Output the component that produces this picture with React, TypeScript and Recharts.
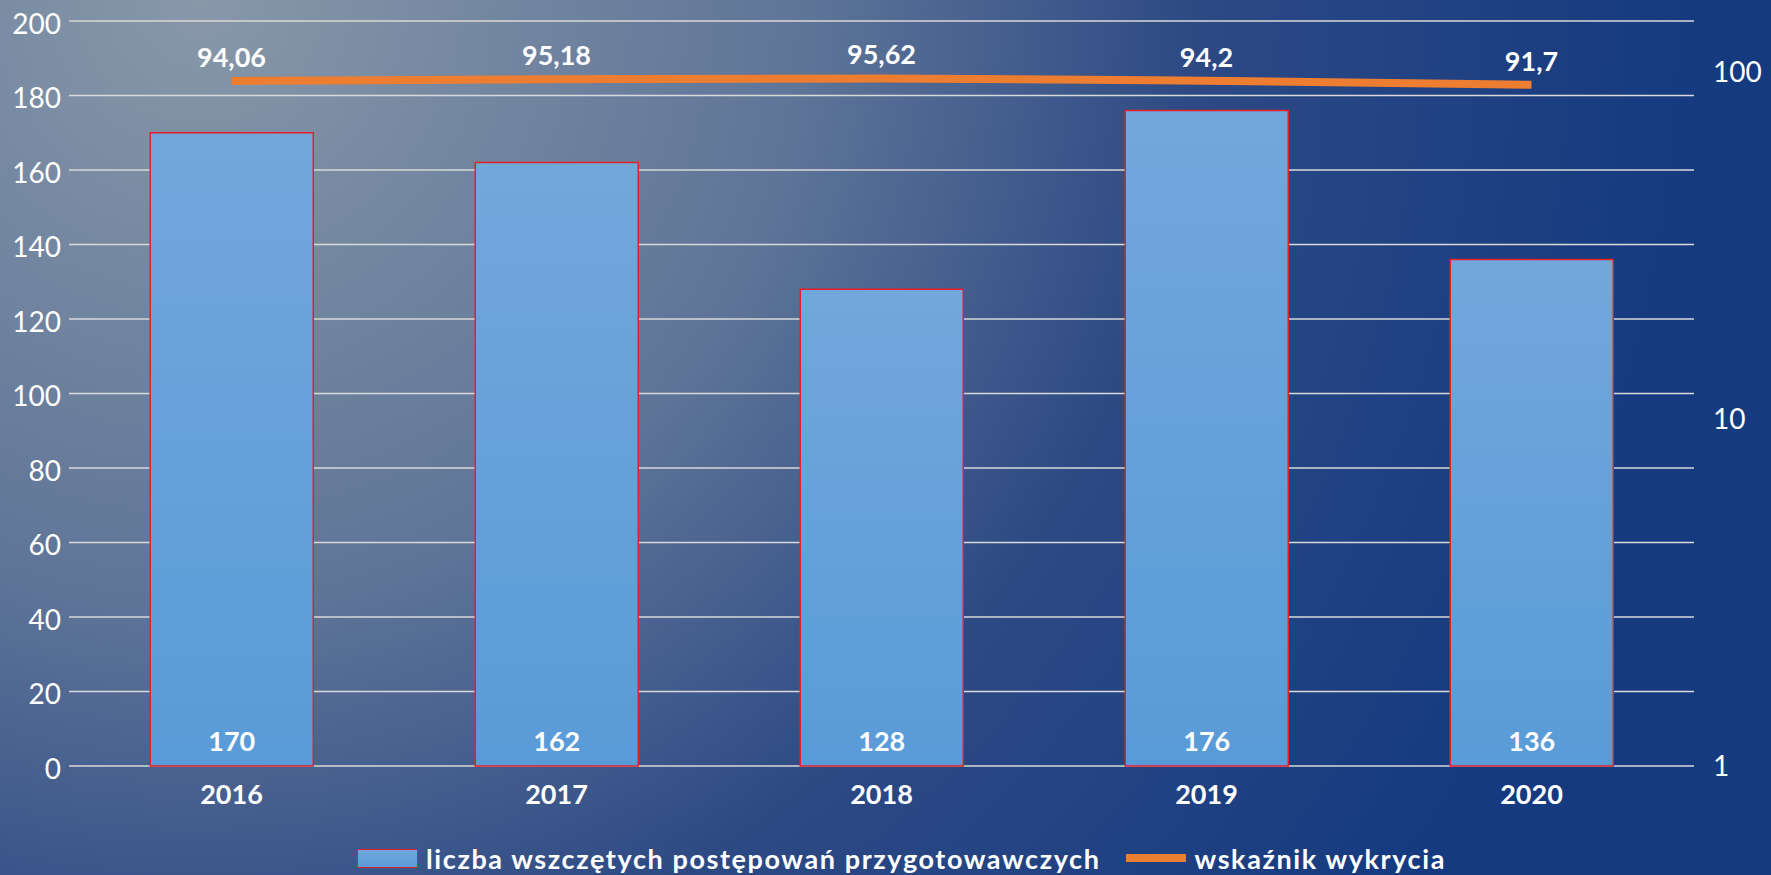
import {
  ComposedChart,
  Bar,
  Line,
  XAxis,
  YAxis,
  CartesianGrid,
  Legend,
  LabelList,
} from "recharts";

const years = ["2016", "2017", "2018", "2019", "2020"];
const cases = [170, 162, 128, 176, 136];
const detection = [94.06, 95.18, 95.62, 94.2, 91.7];
const leftTicks = [0, 20, 40, 60, 80, 100, 120, 140, 160, 180, 200];
const rightTicks = [1, 10, 100];

const data = years.map((year, i) => ({
  year,
  cases: cases[i],
  detection: detection[i],
}));

const comma = (v: any) => String(v).replace(".", ",");

function ChartLegend() {
  return (
    <div
      style={{
        display: "flex",
        justifyContent: "center",
        alignItems: "center",
        height: 40,
        paddingLeft: 32,
        color: "#fff",
        fontFamily: "Lato",
        fontWeight: 700,
        fontSize: 27,
      }}
    >
      <span
        style={{
          width: 61,
          height: 19,
          background: "linear-gradient(#71a7dc, #5a9bd8)",
          border: "1.5px solid #e3202a",
          boxSizing: "border-box",
          marginRight: 8,
        }}
      />
      <span style={{ letterSpacing: 1.6 }}>
        liczba wszczętych postępowań przygotowawczych
      </span>
      <span
        style={{
          width: 60,
          height: 8,
          background: "#ED7D31",
          marginLeft: 25,
          marginRight: 9,
        }}
      />
      <span style={{ letterSpacing: 1.6 }}>wskaźnik wykrycia</span>
    </div>
  );
}

export default function App() {
  return (
    <div
      style={{
        position: "absolute",
        left: 0,
        top: 0,
        width: 1771,
        height: 875,
        background:
          "radial-gradient(circle at 200px 0px, #8898a9 0px, #5f7598 600px, #2c4984 1000px, #153a80 1500px)",
      }}
    >
      <ComposedChart
        width={1771}
        height={875}
        data={data}
        margin={{ top: 21, right: 0, left: 0, bottom: 39 }}
        barCategoryGap="25%"
        style={{ fontFamily: "Lato" }}
      >
        <defs>
          <linearGradient id="barFill" x1="0" y1="0" x2="0" y2="1">
            <stop offset="0%" stopColor="#72a7db" />
            <stop offset="100%" stopColor="#599bd8" />
          </linearGradient>
        </defs>

        <CartesianGrid
          yAxisId="left"
          vertical={false}
          stroke="#d9d9d9"
          strokeWidth={1.5}
        />

        <XAxis
          dataKey="year"
          axisLine={false}
          tickLine={false}
          tickMargin={13}
          tick={{ fill: "#fff", fontSize: 27, fontWeight: 700 }}
        />

        <YAxis
          yAxisId="left"
          width={69}
          domain={[0, 200]}
          ticks={leftTicks}
          axisLine={false}
          tickLine={false}
          tickMargin={2}
          tick={{ fill: "#fff", fontSize: 28, dy: 3 }}
        />

        <YAxis
          yAxisId="right"
          orientation="right"
          width={77}
          scale="log"
          domain={[1, 140]}
          ticks={rightTicks}
          allowDataOverflow
          axisLine={false}
          tickLine={false}
          tickMargin={13}
          tick={{ fill: "#fff", fontSize: 28 }}
        />

        <Bar
          yAxisId="left"
          dataKey="cases"
          fill="url(#barFill)"
          stroke="#e3202a"
          strokeWidth={1.5}
          isAnimationActive={false}
        >
          <LabelList
            dataKey="cases"
            position="insideBottom"
            offset={15}
            fill="#fff"
            fontSize={27}
            fontWeight={700}
          />
        </Bar>

        <Line
          yAxisId="right"
          type="monotone"
          dataKey="detection"
          stroke="#ED7D31"
          strokeWidth={8}
          dot={false}
          activeDot={false}
          isAnimationActive={false}
        >
          <LabelList
            dataKey="detection"
            position="top"
            offset={14}
            formatter={comma}
            fill="#fff"
            fontSize={27}
            fontWeight={700}
          />
        </Line>

        <Legend
          verticalAlign="bottom"
          content={() => <ChartLegend />}
          wrapperStyle={{ left: 0, top: 838, bottom: "auto", width: 1771 }}
        />
      </ComposedChart>
    </div>
  );
}
